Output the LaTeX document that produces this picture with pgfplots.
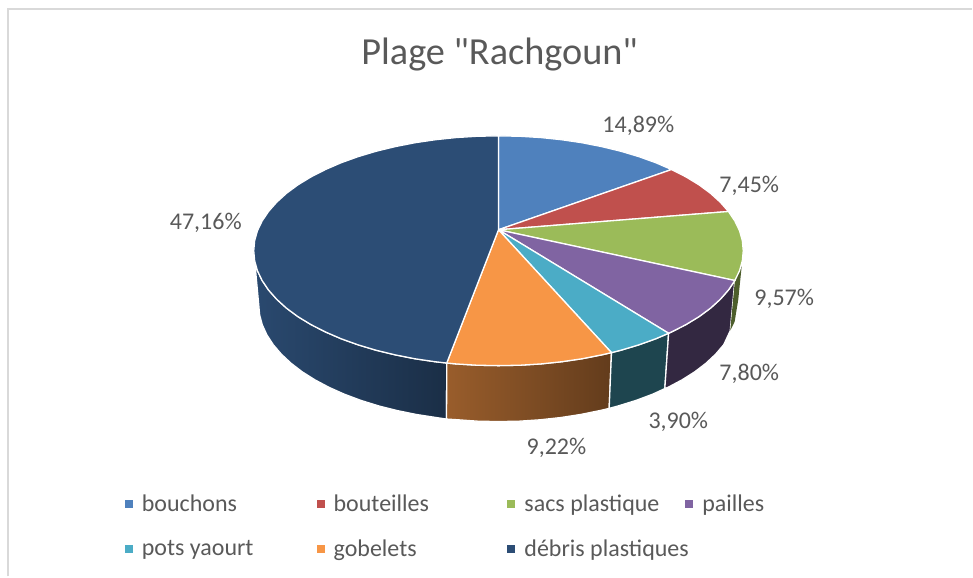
\documentclass[border=0pt]{standalone}
\usepackage{fontspec}
\setmainfont{Carlito}[Ligatures=TeXOff]
\usepackage{pgfplots}
\pgfplotsset{compat=1.18}
\definecolor{cA}{HTML}{4F81BD}
\definecolor{cB}{HTML}{C0504D}
\definecolor{cC}{HTML}{9BBB59}
\definecolor{cD}{HTML}{8064A2}
\definecolor{cE}{HTML}{4BACC6}
\definecolor{cF}{HTML}{F79646}
\definecolor{cG}{HTML}{2C4D75}
\definecolor{txt}{HTML}{595959}
\begin{document}
\begin{tikzpicture}
\begin{axis}[
  width=973pt, height=577pt, scale only axis,
  xmin=0, xmax=973, ymin=0, ymax=577, y dir=reverse,
  hide axis, clip=false,
  title={Plage "Rachgoun"},
  title style={at={(0.514,0.895)}, anchor=center, font=\fontsize{38.3}{43}\selectfont, text=txt},
  legend columns=4,
  legend style={at={(axis cs:125,493)}, anchor=north west, draw=none, fill=none,
    font=\fontsize{24}{28}\selectfont, text=txt, row sep=23pt, inner sep=0pt, outer sep=0pt},
  legend cell align=left,
  legend image code/.code={\path[#1,draw=none] (0pt,-4pt) rectangle (8pt,4pt);},
  every axis plot/.append style={mark=none},
]
\path (rel axis cs:0,0) rectangle (rel axis cs:1,1);
% frame
\addplot[forget plot, draw=black!15, line width=2pt] coordinates {(8,577) (8,9) (973,9)};
% sides
\addplot[forget plot, draw=white, line width=1.3pt, left color=cG!95!black, right color=cG!60!black] coordinates {
(447.2,363.4) (435.6,362.1) (415.2,359.1) (395.5,355.2) (376.5,350.6) (358.5,345.2) (341.5,339.1) (325.8,332.3) (311.3,324.9) (298.3,317) (286.8,308.5) (277,299.6) (268.8,290.3) (262.4,280.8) (257.7,271) (254.9,261) (254,251)
(259,305) (259.9,315.2) (262.6,325.3) (267.2,335.3) (273.5,345) (281.5,354.4) (291.2,363.5) (302.4,372.1) (315.2,380.2) (329.3,387.7) (344.7,394.6) (361.3,400.8) (379,406.3) (397.6,411) (416.9,414.9) (436.9,418) (447,419.5) (447.2,363.4)};
\addplot[forget plot, draw=white, line width=1.3pt, left color=cF!62!black, right color=cF!40!black] coordinates {
(612.1,353) (602.5,355.2) (582.8,359.1) (562.4,362.1) (541.5,364.3) (520.4,365.6) (499,366) (477.6,365.6) (456.5,364.3) (447.2,363.4)
(447,419.5) (458.3,420.2) (478.1,421.6) (499,422) (519.9,421.6) (540.7,420.2) (561.1,418) (581.1,414.9) (600.4,411) (609.8,408.8) (612.1,353)};
\addplot[forget plot, draw=white, line width=1.3pt, fill=cE!40!black] coordinates {
(669.3,333.6) (656.5,339.1) (639.5,345.2) (621.5,350.6) (612.1,353)
(609.8,408.8) (619,406.3) (636.7,400.8) (653.3,394.6) (665.5,389) (669.3,333.6)};
\addplot[forget plot, draw=white, line width=1.3pt, fill=cD!40!black] coordinates {
(735.6,280.8) (729.2,290.3) (721,299.6) (711.2,308.5) (699.7,317) (686.7,324.9) (672.2,332.3) (669.3,333.6)
(665.5,389) (668.7,387.7) (682.8,380.2) (695.6,372.1) (706.8,363.5) (716.5,354.4) (724.5,345) (731,331) (735.6,280.8)};
\addplot[forget plot, draw=none, fill=cC!50!black] coordinates {
(742.5,266) (740.3,271) (735.6,280.8) (731,331) (735.4,322) (739,300) (742.5,266)};
% top
\addplot[draw=white, line width=1.3pt, fill=cA] coordinates {
(499,230) (499,136) (520.4,136.4) (541.5,137.7) (562.4,139.9) (582.8,142.9) (602.5,146.8) (621.5,151.4) (639.5,156.8) (656.5,162.9) (672.2,169.7) (499,230)};
\addlegendentry{\makebox[180pt][l]{\hspace{7pt}bouchons}}
\addplot[draw=white, line width=1.3pt, fill=cB] coordinates {
(499,230) (672.2,169.7) (686.7,177.1) (699.7,185) (711.2,193.5) (721,202.4) (729.2,211.7) (499,230)};
\addlegendentry{\makebox[179pt][l]{\hspace{7pt}bouteilles}}
\addplot[draw=white, line width=1.3pt, fill=cC] coordinates {
(499,230) (729.2,211.7) (735.6,221.2) (740.3,231) (743.1,241) (744,251) (743.1,261) (740.3,271) (735.6,280.8) (499,230)};
\addlegendentry{\makebox[166pt][l]{\hspace{7pt}sacs plastique}}
\addplot[draw=white, line width=1.3pt, fill=cD] coordinates {
(499,230) (735.6,280.8) (729.2,290.3) (721,299.6) (711.2,308.5) (699.7,317) (686.7,324.9) (672.2,332.3) (669.3,333.6) (499,230)};
\addlegendentry{\makebox[80pt][l]{\hspace{7pt}pailles}}
\addplot[draw=white, line width=1.3pt, fill=cE] coordinates {
(499,230) (669.3,333.6) (656.5,339.1) (639.5,345.2) (621.5,350.6) (612.1,353) (499,230)};
\addlegendentry{\makebox[180pt][l]{\hspace{7pt}pots yaourt}}
\addplot[draw=white, line width=1.3pt, fill=cF] coordinates {
(499,230) (612.1,353) (602.5,355.2) (582.8,359.1) (562.4,362.1) (541.5,364.3) (520.4,365.6) (499,366) (477.6,365.6) (456.5,364.3) (447.2,363.4) (499,230)};
\addlegendentry{\makebox[179pt][l]{\hspace{7pt}gobelets}}
\addplot[draw=white, line width=1.3pt, fill=cG] coordinates {
(499,230) (447.2,363.4) (435.6,362.1) (415.2,359.1) (395.5,355.2) (376.5,350.6) (358.5,345.2) (341.5,339.1) (325.8,332.3) (311.3,324.9) (298.3,317) (286.8,308.5) (277,299.6) (268.8,290.3) (262.4,280.8) (257.7,271) (254.9,261) (254,251) (254.9,241) (257.7,231) (262.4,221.2) (268.8,211.7) (277,202.4) (286.8,193.5) (298.3,185) (311.3,177.1) (325.8,169.7) (341.5,162.9) (358.5,156.8) (376.5,151.4) (395.5,146.8) (415.2,142.9) (435.6,139.9) (456.5,137.7) (477.6,136.4) (499,136) (499,230)};
\addlegendentry{\makebox[166pt][l]{\hspace{7pt}débris plastiques}}
% data labels
\begin{scope}[every node/.style={text=txt, font=\fontsize{24}{28}\selectfont, anchor=center, inner sep=0pt}]
\node at (axis cs:639,126) {14,89\%};
\node at (axis cs:750,186) {7,45\%};
\node at (axis cs:785,299) {9,57\%};
\node at (axis cs:750,374) {7,80\%};
\node at (axis cs:679,422) {3,90\%};
\node at (axis cs:557,448) {9,22\%};
\node at (axis cs:206,223) {47,16\%};
\end{scope}
\end{axis}
\end{tikzpicture}
\end{document}
